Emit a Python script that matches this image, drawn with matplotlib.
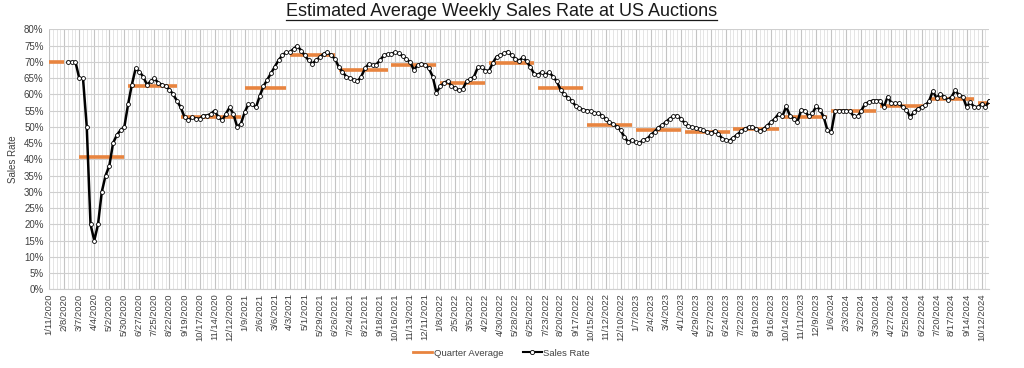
import numpy as np
import pandas as pd
import matplotlib
matplotlib.use('Agg')
import matplotlib.pyplot as plt
from matplotlib.lines import Line2D
from matplotlib.ticker import FixedLocator, MultipleLocator

plt.rcParams['font.family'] = ['Liberation Sans', 'DejaVu Sans']

# Weekly sales rate (%), first 5 weeks have no data
nan = np.nan
sales_rate = [
    nan, nan, nan, nan, nan, 70, 70, 70, 65, 65,
    50, 20, 15, 20, 30, 35, 38, 45, 47.5, 49,
    50, 57, 63, 68, 67, 65.5, 63, 64, 65, 63.5,
    63, 62.5, 61.5, 60, 58, 56, 53, 52, 53, 52.5,
    52.5, 53.5, 53.5, 54, 55, 53, 52, 54, 56, 54,
    50, 51, 54.5, 57, 57, 56, 59.5, 62.5, 64.5, 66.5,
    68.5, 70.5, 72, 73, 73, 74, 75, 73.5, 72, 70.5,
    69.5, 70.5, 71.5, 72.5, 73, 72, 71, 68.5, 67, 65.5,
    65, 64.5, 64, 65.5, 68, 69.4, 69, 69.2, 70.5, 72,
    72.4, 72.4, 73, 72.6, 71.8, 70.8, 70, 67.5, 69, 69.4,
    69, 68, 65.5, 60.5, 62.5, 63.5, 64.2, 62.5, 62, 61.2,
    61.6, 64, 64.7, 65.5, 68.3, 68.5, 67.3, 67.3, 69.7, 71.6,
    72.1, 72.6, 73.2, 72, 71, 70.4, 71.4, 70.2, 68.4, 66.3,
    66.1, 66.8, 66.1, 66.8, 65.5, 64, 61.5, 60, 59, 58,
    56.5, 55.8, 55.2, 55, 54.9, 54.2, 54.2, 53.5, 52.5, 51.5,
    50.8, 50.1, 48.9, 46.9, 45.3, 46, 45.2, 45, 46, 46.3,
    47.5, 48.5, 49.8, 50.5, 51.5, 52.5, 53.2, 53.5, 52.5, 51.2,
    50.2, 49.9, 49.7, 49.4, 48.9, 48.4, 48.1, 48.8, 47.9, 46.4,
    45.9, 45.8, 46.7, 47.6, 48.7, 49.4, 49.9, 50.1, 49.4, 48.7,
    49.4, 50.4, 51.5, 52.5, 54, 53.2, 56.3, 53.5, 52.5, 51.5,
    55.3, 55, 53.2, 54.2, 56.3, 55.3, 53, 48.9, 48.4, 54.8,
    55, 55, 55, 54.8, 53.2, 53.2, 55, 57.1, 57.6, 58.1,
    58.1, 58.1, 56.1, 59.3, 57.3, 57.3, 57.3, 56.1, 55.3, 53,
    54.5, 55.6, 56.1, 56.6, 57.9, 61, 58.9, 60.2, 59.3, 58.3,
    59.3, 61.2, 59.7, 59.3, 56.1, 57.6, 56.1, 56.1, 57.1, 56.1,
    58.1,
]
weeks = pd.date_range('2020-01-11', periods=len(sales_rate), freq='7D')

# Quarter average segments (first week, last week, value %)
quarter_start = ['2020-01-11', '2020-03-07', '2020-06-06', '2020-09-12', '2021-01-09',
                 '2021-04-03', '2021-07-03', '2021-10-09', '2022-01-08', '2022-04-09',
                 '2022-07-09', '2022-10-08', '2023-01-07', '2023-04-08', '2023-07-08',
                 '2023-10-07', '2024-01-06', '2024-04-06', '2024-07-06', '2024-10-05']
quarter_end = ['2020-02-08', '2020-05-30', '2020-09-05', '2021-01-02', '2021-03-27',
               '2021-06-26', '2021-10-02', '2022-01-01', '2022-04-02', '2022-07-02',
               '2022-10-01', '2022-12-31', '2023-04-01', '2023-07-01', '2023-09-30',
               '2023-12-30', '2024-03-30', '2024-06-29', '2024-09-28', '2024-10-26']
quarter_avg = [70, 40.7, 62.7, 53, 62, 72, 67.5, 69.2, 63.6, 69.8,
               62, 50.6, 49, 48.5, 49.3, 53.1, 55, 56.5, 58.6, 57.5]

x = np.arange(len(weeks))


def week_pos(d):
    return (pd.Timestamp(d) - weeks[0]).days // 7


fig = plt.figure(figsize=(10.24, 3.68), dpi=100)
ax = fig.add_axes([0.048, 0.214, 0.918, 0.706])

orange = '#E8843F'
for s, e, v in zip(quarter_start, quarter_end, quarter_avg):
    ax.plot([week_pos(s), week_pos(e)], [v, v], color=orange, lw=2.6,
            solid_capstyle='butt', zorder=3)

ax.plot(x, sales_rate, color='black', lw=1.8, marker='o', ms=2.8,
        mfc='white', mec='black', mew=0.6, zorder=4)

ax.set_xlim(0, len(weeks) - 1)
ax.set_ylim(0, 80)
ax.yaxis.set_major_locator(MultipleLocator(5))
ax.set_yticklabels([f'{int(v)}%' for v in ax.get_yticks()])

major = x[::4]
ax.xaxis.set_major_locator(FixedLocator(major))
ax.xaxis.set_minor_locator(FixedLocator(x))
ax.set_xticklabels([f'{d.month}/{d.day}/{d.year}' for d in weeks[::4]],
                   rotation=90, fontsize=6.8, color='#404040')
ax.tick_params(axis='y', labelsize=7, colors='#404040', length=0, pad=4)
ax.tick_params(axis='x', which='both', length=0, pad=3)

ax.grid(axis='y', color='#cfcfcf', lw=0.8)
ax.grid(axis='x', which='major', color='#c4c4c4', lw=0.8)
ax.grid(axis='x', which='minor', color='#e0e0e0', lw=0.6)
ax.set_axisbelow(True)
for side in ['top', 'right', 'left']:
    ax.spines[side].set_visible(False)
ax.spines['bottom'].set_color('#cfcfcf')

ax.set_ylabel('Sales Rate', fontsize=7, color='#404040', labelpad=4)

title = fig.text(0.49, 0.968, 'Estimated Average Weekly Sales Rate at US Auctions',
                 ha='center', va='center', fontsize=13, color='#1a1a1a')

handles = [Line2D([], [], color=orange, lw=2),
           Line2D([], [], color='black', lw=1.5, marker='o', ms=3,
                  mfc='white', mec='black', mew=0.6)]
fig.legend(handles, ['Quarter Average', 'Sales Rate'], loc='center',
           bbox_to_anchor=(0.49, 0.04), ncol=2, frameon=False, fontsize=6.8,
           handlelength=2.0, handletextpad=0.2, columnspacing=2.0,
           labelcolor='#404040')

# underline the title
fig.canvas.draw()
bb = title.get_window_extent().transformed(fig.transFigure.inverted())
fig.add_artist(Line2D([bb.x0, bb.x1], [bb.y0 + 0.002, bb.y0 + 0.002],
                      color='#1a1a1a', lw=0.9, transform=fig.transFigure))

fig.savefig('out.png', dpi=100)
